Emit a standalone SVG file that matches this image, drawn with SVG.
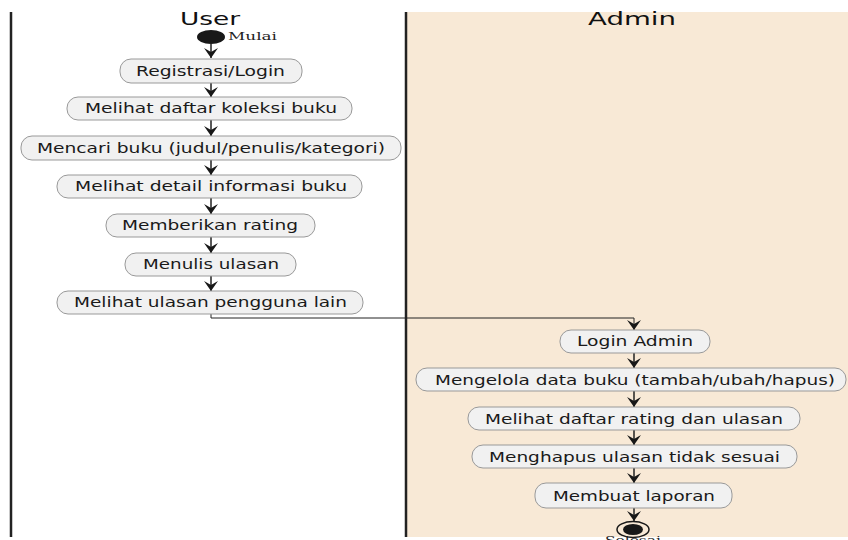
<svg xmlns="http://www.w3.org/2000/svg" width="848" height="540" viewBox="0 0 848 540">
<style>
.lane{stroke:#222;stroke-width:2.5;fill:none}
.box{fill:#f1f1f1;stroke:#999;stroke-width:1}
.lbl{font-family:"DejaVu Sans",sans-serif;font-size:13.5px;fill:#1a1a1a}
.title{font-family:"DejaVu Sans",sans-serif;font-size:17px;fill:#111}
.note{font-family:"DejaVu Serif","Liberation Serif",serif;font-size:11px;fill:#222}
.edge{stroke:#222;stroke-width:1.5;fill:none}
</style>
<defs>
<marker id="ah" viewBox="0 0 10 14" refX="10" refY="7" markerWidth="10" markerHeight="14" markerUnits="userSpaceOnUse" orient="auto">
<path d="M0,0 L10,7 L0,14 L4,7 Z" fill="#181818"/>
</marker>
</defs>
<rect x="0" y="0" width="848" height="540" fill="#ffffff"/>
<rect x="407" y="12" width="441" height="525" fill="#f8e9d6"/>
<g id="lanes">
<line class="lane" x1="11" y1="12" x2="11" y2="537"/>
<line class="lane" x1="406" y1="12" x2="406" y2="537"/>
<text class="title" x="180" y="25" textLength="60" lengthAdjust="spacingAndGlyphs">User</text>
<text class="title" x="588" y="25" textLength="88" lengthAdjust="spacingAndGlyphs">Admin</text>
</g>
<g id="connectors">
<path class="edge" d="M211,44 V58" marker-end="url(#ah)"/>
<path class="edge" d="M211,83 V97" marker-end="url(#ah)"/>
<path class="edge" d="M211,120 V136" marker-end="url(#ah)"/>
<path class="edge" d="M211,160 V175" marker-end="url(#ah)"/>
<path class="edge" d="M211,198 V214" marker-end="url(#ah)"/>
<path class="edge" d="M211,237 V253" marker-end="url(#ah)"/>
<path class="edge" d="M211,276 V291" marker-end="url(#ah)"/>
<path class="edge" d="M211,314 V318 H634 V330" marker-end="url(#ah)" style="stroke-width:1"/>
<path class="edge" d="M634,353 V368" marker-end="url(#ah)"/>
<path class="edge" d="M634,391 V407" marker-end="url(#ah)"/>
<path class="edge" d="M634,430 V445" marker-end="url(#ah)"/>
<path class="edge" d="M634,468 V483" marker-end="url(#ah)"/>
<path class="edge" d="M634,508 V521" marker-end="url(#ah)"/>
</g>
<g id="start">
<ellipse cx="211" cy="37" rx="14" ry="7" fill="#181818"/>
<text class="note" x="228" y="40" textLength="49" lengthAdjust="spacingAndGlyphs">Mulai</text>
</g>
<g id="registrasi">
<rect class="box" x="120" y="59" width="182" height="24" rx="11"/>
<text class="lbl" x="136" y="76" textLength="149" lengthAdjust="spacingAndGlyphs">Registrasi/Login</text>
</g>
<g id="koleksi">
<rect class="box" x="67" y="97" width="285" height="23" rx="11"/>
<text class="lbl" x="85" y="113" textLength="252" lengthAdjust="spacingAndGlyphs">Melihat daftar koleksi buku</text>
</g>
<g id="mencari">
<rect class="box" x="21" y="136" width="380" height="24" rx="11"/>
<text class="lbl" x="37" y="153" textLength="348" lengthAdjust="spacingAndGlyphs">Mencari buku (judul/penulis/kategori)</text>
</g>
<g id="detail">
<rect class="box" x="57" y="175" width="305" height="23" rx="11"/>
<text class="lbl" x="75" y="191" textLength="272" lengthAdjust="spacingAndGlyphs">Melihat detail informasi buku</text>
</g>
<g id="rating">
<rect class="box" x="106" y="214" width="209" height="23" rx="11"/>
<text class="lbl" x="122" y="230" textLength="176" lengthAdjust="spacingAndGlyphs">Memberikan rating</text>
</g>
<g id="menulis">
<rect class="box" x="125" y="253" width="171" height="23" rx="11"/>
<text class="lbl" x="143" y="269" textLength="136" lengthAdjust="spacingAndGlyphs">Menulis ulasan</text>
</g>
<g id="ulasanlain">
<rect class="box" x="57" y="291" width="306" height="23" rx="11"/>
<text class="lbl" x="74" y="307" textLength="273" lengthAdjust="spacingAndGlyphs">Melihat ulasan pengguna lain</text>
</g>
<g id="loginadmin">
<rect class="box" x="560" y="330" width="150" height="23" rx="11"/>
<text class="lbl" x="577" y="346" textLength="116" lengthAdjust="spacingAndGlyphs">Login Admin</text>
</g>
<g id="mengelola">
<rect class="box" x="416" y="368" width="430" height="23" rx="11"/>
<text class="lbl" x="435" y="385" textLength="400" lengthAdjust="spacingAndGlyphs">Mengelola data buku (tambah/ubah/hapus)</text>
</g>
<g id="daftarrating">
<rect class="box" x="468" y="407" width="332" height="23" rx="11"/>
<text class="lbl" x="485" y="424" textLength="298" lengthAdjust="spacingAndGlyphs">Melihat daftar rating dan ulasan</text>
</g>
<g id="menghapus">
<rect class="box" x="472" y="445" width="325" height="23" rx="11"/>
<text class="lbl" x="489" y="462" textLength="291" lengthAdjust="spacingAndGlyphs">Menghapus ulasan tidak sesuai</text>
</g>
<g id="laporan">
<rect class="box" x="535" y="483" width="197" height="25" rx="11"/>
<text class="lbl" x="553" y="501" textLength="162" lengthAdjust="spacingAndGlyphs">Membuat laporan</text>
</g>
<g id="end">
<ellipse cx="633" cy="529.5" rx="16" ry="8" fill="none" stroke="#181818" stroke-width="1.5"/>
<ellipse cx="633" cy="529.5" rx="10" ry="5.5" fill="#181818"/>
<text class="note" x="633" y="544" text-anchor="middle" textLength="56" lengthAdjust="spacingAndGlyphs">Selesai</text>
</g>
</svg>
